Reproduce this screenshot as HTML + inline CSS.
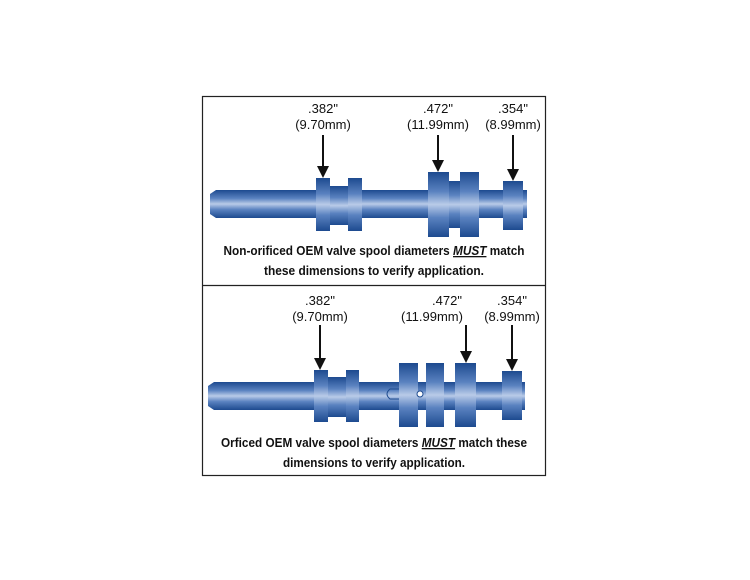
<!DOCTYPE html>
<html><head><style>
body{margin:0;background:#fff;}
svg{display:block}
.l{font-family:"Liberation Sans",sans-serif;font-size:13px;fill:#111;text-anchor:middle}
.c{font-family:"Liberation Sans",sans-serif;font-size:13px;font-weight:bold;fill:#111;text-anchor:middle}
</style></head><body>
<svg width="750" height="580" viewBox="0 0 750 580">
<defs>
<linearGradient id="g" x1="0" y1="0" x2="0" y2="1">
<stop offset="0" stop-color="#1d4a8f"/>
<stop offset="0.3" stop-color="#5a82c0"/>
<stop offset="0.5" stop-color="#b9cbe8"/>
<stop offset="0.7" stop-color="#5a82c0"/>
<stop offset="1" stop-color="#1d4a8f"/>
</linearGradient>
</defs>
<rect x="202.5" y="96.5" width="343" height="379" fill="none" stroke="#222" stroke-width="1.2"/>
<line x1="202" y1="285.5" x2="546" y2="285.5" stroke="#222" stroke-width="1.2"/>

<!-- top spool -->
<g fill="url(#g)">
<path d="M216,190 L527,190 L527,218 L216,218 L210,214 L210,194 Z"/>
<rect x="330" y="186" width="18" height="39"/>
<rect x="449" y="181" width="11" height="47"/>
<rect x="316" y="178" width="14" height="53"/>
<rect x="348" y="178" width="14" height="53"/>
<rect x="428" y="172" width="21" height="65"/>
<rect x="460" y="172" width="19" height="65"/>
<rect x="503" y="181" width="20" height="49"/>
</g>
<g stroke="#111" stroke-width="2">
<line x1="323" y1="135" x2="323" y2="168"/>
<line x1="438" y1="135" x2="438" y2="162"/>
<line x1="513" y1="135" x2="513" y2="171"/>
</g>
<g fill="#111">
<path d="M317,166 L329,166 L323,178 Z"/>
<path d="M432,160 L444,160 L438,172 Z"/>
<path d="M507,169 L519,169 L513,181 Z"/>
</g>
<text class="l" x="323" y="113">.382"</text><text class="l" x="323" y="129">(9.70mm)</text>
<text class="l" x="438" y="113">.472"</text><text class="l" x="438" y="129">(11.99mm)</text>
<text class="l" x="513" y="113">.354"</text><text class="l" x="513" y="129">(8.99mm)</text>
<text class="c" x="374" y="255" textLength="301" lengthAdjust="spacingAndGlyphs">Non-orificed OEM valve spool diameters <tspan font-style="italic" text-decoration="underline">MUST</tspan> match</text>
<text class="c" x="374" y="275" textLength="220" lengthAdjust="spacingAndGlyphs">these dimensions to verify application.</text>

<!-- bottom spool -->
<g fill="url(#g)">
<path d="M214,382 L525,382 L525,410 L214,410 L208,406 L208,386 Z"/>
<rect x="328" y="377" width="18" height="40"/>
<rect x="314" y="370" width="14" height="52"/>
<rect x="346" y="370" width="13" height="52"/>
<rect x="399" y="363" width="19" height="64"/>
<rect x="426" y="363" width="18" height="64"/>
<rect x="455" y="363" width="21" height="64"/>
<rect x="502" y="371" width="20" height="49"/>
</g>
<path d="M399,389 L390,389 Q384,394 390,399 L399,399" fill="none" stroke="#1d4a8f" stroke-width="1"/>
<circle cx="420" cy="394" r="3" fill="#fff" stroke="#1d4a8f" stroke-width="1"/>
<g stroke="#111" stroke-width="2">
<line x1="320" y1="325" x2="320" y2="360"/>
<line x1="466" y1="325" x2="466" y2="353"/>
<line x1="512" y1="325" x2="512" y2="361"/>
</g>
<g fill="#111">
<path d="M314,358 L326,358 L320,370 Z"/>
<path d="M460,351 L472,351 L466,363 Z"/>
<path d="M506,359 L518,359 L512,371 Z"/>
</g>
<text class="l" x="320" y="305">.382"</text><text class="l" x="320" y="321">(9.70mm)</text>
<text class="l" x="447" y="305">.472"</text><text class="l" x="432" y="321">(11.99mm)</text>
<text class="l" x="512" y="305">.354"</text><text class="l" x="512" y="321">(8.99mm)</text>
<text class="c" x="374" y="447" textLength="306" lengthAdjust="spacingAndGlyphs">Orficed OEM valve spool diameters <tspan font-style="italic" text-decoration="underline">MUST</tspan> match these</text>
<text class="c" x="374" y="467" textLength="182" lengthAdjust="spacingAndGlyphs">dimensions to verify application.</text>
</svg>
</body></html>
